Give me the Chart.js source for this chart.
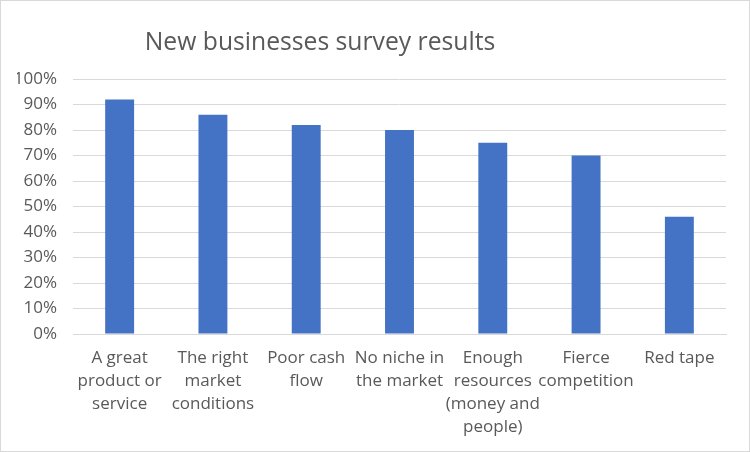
<!DOCTYPE html>
<html>
<head>
<meta charset="utf-8">
<script src="https://cdn.jsdelivr.net/npm/chart.js@4"></script>
<style>
  html, body { margin:0; padding:0; background:#fff; }
  #wrap { position:relative; width:748px; height:450px; border:1px solid #d9d9d9; }
</style>
</head>
<body>
<div id="wrap"><canvas id="chart-survey"></canvas></div>
<script>
// ── DATA ──
var chartTitle = 'New businesses survey results';
var categories = [
  ['A great', 'product or', 'service'],
  ['The right', 'market', 'conditions'],
  ['Poor cash', 'flow'],
  ['No niche in', 'the market'],
  ['Enough', 'resources', '(money and', 'people)'],
  ['Fierce', 'competition'],
  ['Red tape']
];
var responses = [92, 86, 82, 80, 75, 70, 46];   // percent
var yTicks = [0, 10, 20, 30, 40, 50, 60, 70, 80, 90, 100];

var FONT = "'Open Sans', 'Noto Sans', sans-serif";

// title drawn off-centre like the original
var titlePlugin = {
  id: 'offTitle',
  afterDraw: function(chart) {
    var ctx = chart.ctx;
    ctx.save();
    ctx.font = '24.7px ' + FONT;
    ctx.fillStyle = '#595959';
    ctx.textAlign = 'center';
    ctx.textBaseline = 'alphabetic';
    ctx.fillText(chartTitle, 319, 49);
    ctx.restore();
  }
};

var el = document.getElementById('chart-survey');
new Chart(el.getContext('2d'), {
  type: 'bar',
  data: {
    labels: categories,
    datasets: [{ data: responses, backgroundColor: '#4472C4', borderWidth: 0,
                 categoryPercentage: 1, barPercentage: 0.31 }]
  },
  options: {
    responsive: true, maintainAspectRatio: false, animation: false,
    devicePixelRatio: 1,
    layout: { padding: { top: 78, left: 16, right: 23, bottom: 0 } },
    plugins: { legend: { display: false }, title: { display: false }, tooltip: { enabled: false } },
    scales: {
      x: {
        grid: { display: false, drawTicks: false },
        border: { display: true, color: '#d9d9d9', width: 1 },
        ticks: { color: '#595959', font: { family: FONT, size: 17, lineHeight: 1.35 },
                 padding: 13, maxRotation: 0, autoSkip: false },
        afterFit: function(axis) { axis.height = 117; }
      },
      y: {
        min: 0, max: 100,
        afterBuildTicks: function(axis) { axis.ticks = yTicks.map(function(v){ return { value: v }; }); },
        grid: { color: '#d9d9d9', lineWidth: 1, drawTicks: false },
        border: { display: false },
        ticks: { color: '#595959', font: { family: FONT, size: 17 }, padding: 16,
                 callback: function(v){ return v + '%'; } },
        afterFit: function(axis) { axis.width = 56; }
      }
    }
  },
  plugins: [titlePlugin]
});
</script>
</body>
</html>
